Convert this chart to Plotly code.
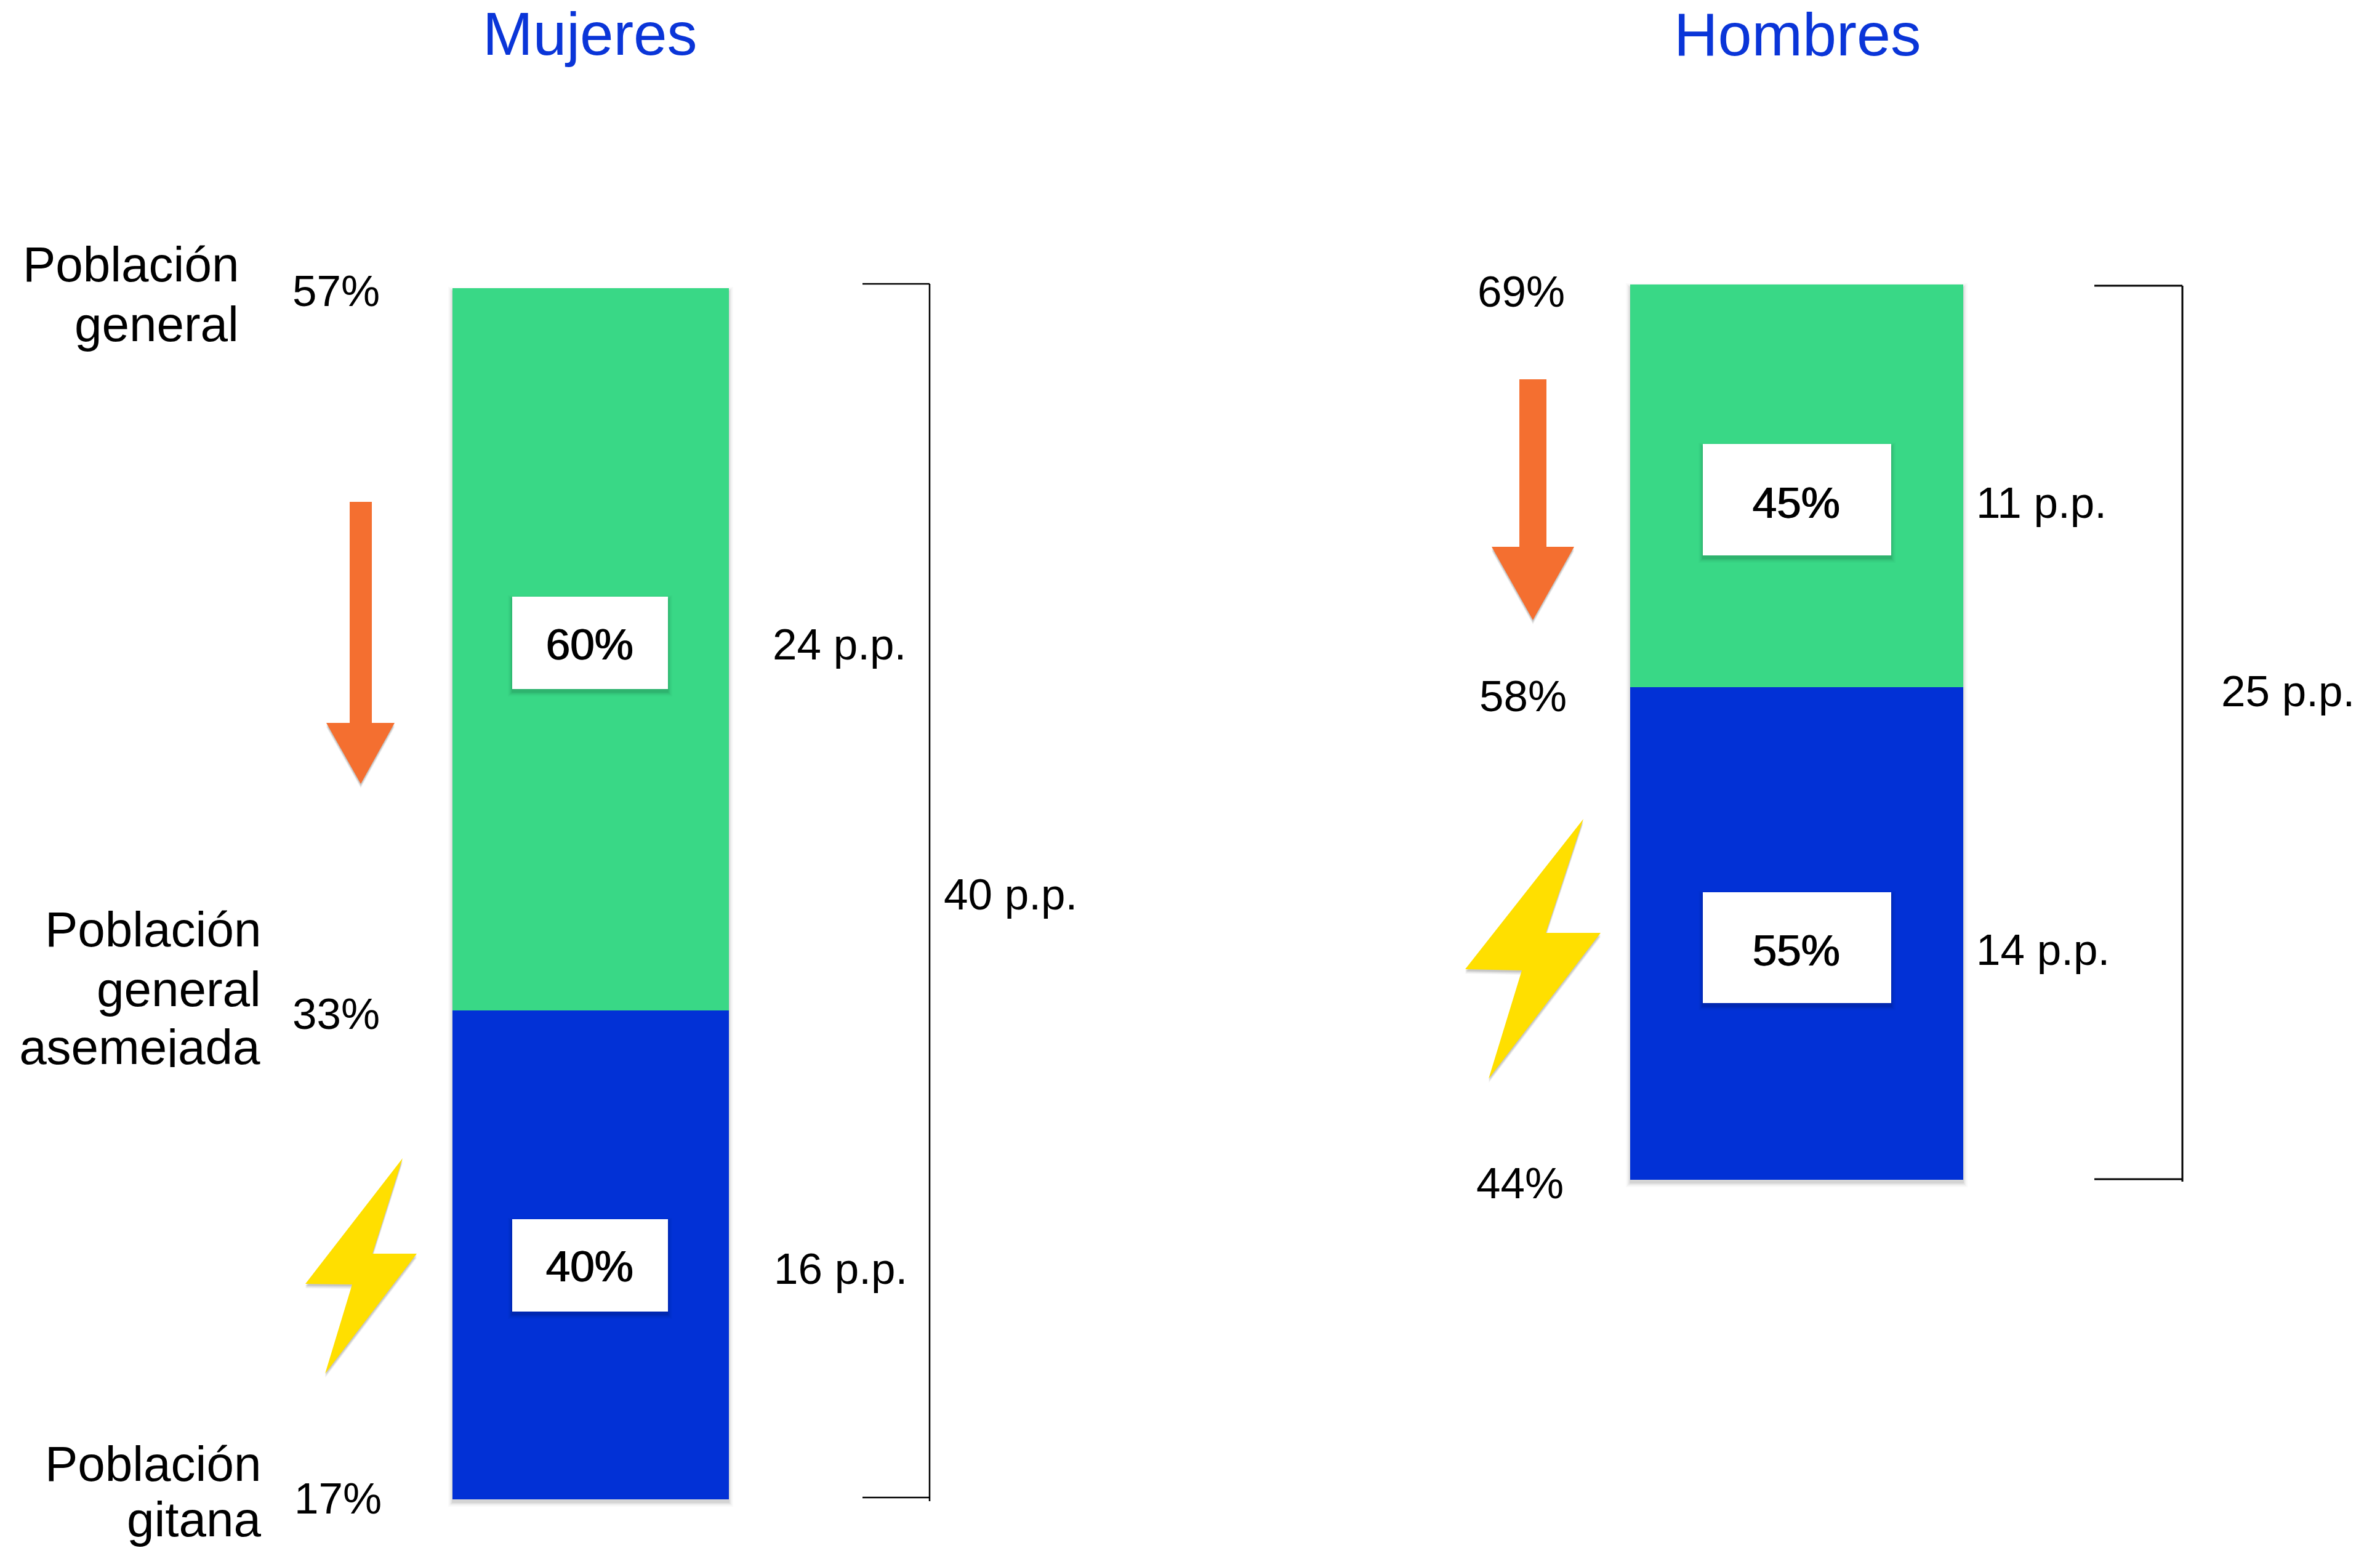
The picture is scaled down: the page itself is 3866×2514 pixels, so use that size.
import plotly.graph_objects as go

# ---------- data ----------
paneles = ["Mujeres", "Hombres"]
mujeres_tasas = [57, 33.15, 17]          # general, asemejada, gitana
hombres_tasas = [69, 57.75, 44]
mujeres_etiquetas = ["57%", "33%", "17%"]
hombres_etiquetas = ["69%", "58%", "44%"]
mujeres_reparto = ["60%", "40%"]
hombres_reparto = ["45%", "55%"]
mujeres_pp = ["24 p.p.", "16 p.p.", "40 p.p."]
hombres_pp = ["11 p.p.", "14 p.p.", "25 p.p."]

W, H = 3866, 2514
VERDE, AZUL, NARANJA, AMARILLO = "#39D886", "#0231D6", "#F46F30", "#FFDF00"
FONT = "Liberation Sans"


def px(x):
    return x / W


def py(y):
    return 1 - y / H


fig = go.Figure()
fig.add_trace(go.Bar(x=[paneles[0]], y=[mujeres_tasas[1] - mujeres_tasas[2]], base=[mujeres_tasas[2]],
                     marker=dict(color=AZUL, line_width=0), xaxis="x", yaxis="y"))
fig.add_trace(go.Bar(x=[paneles[0]], y=[mujeres_tasas[0] - mujeres_tasas[1]], base=[mujeres_tasas[1]],
                     marker=dict(color=VERDE, line_width=0), xaxis="x", yaxis="y"))
fig.add_trace(go.Bar(x=[paneles[1]], y=[hombres_tasas[1] - hombres_tasas[2]], base=[hombres_tasas[2]],
                     marker=dict(color=AZUL, line_width=0), xaxis="x2", yaxis="y2"))
fig.add_trace(go.Bar(x=[paneles[1]], y=[hombres_tasas[0] - hombres_tasas[1]], base=[hombres_tasas[1]],
                     marker=dict(color=VERDE, line_width=0), xaxis="x2", yaxis="y2"))

shapes = []
annotations = []


def texto(s, x, base, size=71, anchor="left", color="#000000", shadow="none", **kw):
    annotations.append(dict(
        text=s, x=px(x), y=py(base + 3 - 0.3465 * size), xref="paper", yref="paper",
        xanchor=anchor, yanchor="middle", showarrow=False, borderpad=0, borderwidth=0,
        font=dict(family=FONT, size=size, color=color, shadow=shadow), **kw))


def poligono(puntos, color, sombra=True, layer="above"):
    def camino(dx=0, dy=0):
        return "M " + " L ".join(f"{px(a + dx)} {py(b + dy)}" for a, b in puntos) + " Z"
    if sombra:
        for d, alpha in ((7, 0.06), (5, 0.08), (3, 0.10)):
            shapes.append(dict(type="path", path=camino(0, d), xref="paper", yref="paper",
                               fillcolor=f"rgba(0,0,0,{alpha})", line_width=0, layer=layer))
    shapes.append(dict(type="path", path=camino(), xref="paper", yref="paper",
                       fillcolor=color, line_width=0, layer=layer))


def caja(x0, y0, x1, y1, color="#FFFFFF", layer="above"):
    shapes.append(dict(type="rect", x0=px(x0), x1=px(x1), y0=py(y0), y1=py(y1), xref="paper", yref="paper",
                       fillcolor=color, line_width=0, layer=layer))


def sombra_rect(x0, y0, x1, y1, layer):
    for g, alpha in ((7, 0.02), (5, 0.03), (3, 0.05), (1, 0.07)):
        caja(x0 - g, y0 - g + 5, x1 + g, y1 + g + 5, f"rgba(0,0,0,{alpha})", layer)


def linea(x0, y0, x1, y1, ancho=2.5):
    shapes.append(dict(type="line", x0=px(x0), x1=px(x1), y0=py(y0), y1=py(y1), xref="paper", yref="paper",
                       line=dict(color="#000000", width=ancho), layer="above"))


# bar shadows (behind the bars)
sombra_rect(735, 468, 1184, 2435, "below")
sombra_rect(2648, 462, 3189, 1916, "below")

# titles
texto(paneles[0], 958, 86, size=98, anchor="center", color="#0A35D8")
texto(paneles[1], 2920, 87, size=99, anchor="center", color="#0A35D8")

# row labels
texto("Población", 388, 454, size=80, anchor="right")
texto("general", 388, 551, size=80, anchor="right")
texto("Población", 424, 1534, size=80, anchor="right")
texto("general", 424, 1631, size=80, anchor="right")
# the last line is cut just under its baseline in the reference
annotations.append(dict(text="asemejada", x=px(424), y=py(1734), xref="paper", yref="paper",
                        xanchor="right", yanchor="bottom", showarrow=False, borderpad=0,
                        width=400, height=77, align="right", valign="top",
                        font=dict(family=FONT, size=80, color="#000000")))
texto("Población", 424, 2402, size=80, anchor="right")
texto("gitana", 424, 2492, size=80, anchor="right")

# rates
texto(mujeres_etiquetas[0], 475, 494)
texto(mujeres_etiquetas[1], 475, 1668)
texto(mujeres_etiquetas[2], 478, 2455)
texto(hombres_etiquetas[0], 2400, 495)
texto(hombres_etiquetas[1], 2403, 1152)
texto(hombres_etiquetas[2], 2398, 1943)

# share boxes
for (x0, y0, x1, y1) in ((832, 969, 1085, 1119), (832, 1980, 1085, 2130),
                         (2766, 721, 3072, 902), (2766, 1449, 3072, 1629)):
    sombra_rect(x0, y0, x1, y1, "above")
    caja(x0, y0, x1, y1)
GROSOR = "1.5px 0 0 #000000"
texto(mujeres_reparto[0], 957, 1068, anchor="center", shadow=GROSOR)
texto(mujeres_reparto[1], 957, 2078, anchor="center", shadow=GROSOR)
texto(hombres_reparto[0], 2917, 838, anchor="center", shadow=GROSOR)
texto(hombres_reparto[1], 2917, 1565, anchor="center", shadow=GROSOR)

# percentage-point gaps
texto(mujeres_pp[0], 1255, 1068)
texto(mujeres_pp[1], 1257, 2082)
texto(mujeres_pp[2], 1533, 1474)
texto(hombres_pp[0], 3210, 838)
texto(hombres_pp[1], 3210, 1564)
texto(hombres_pp[2], 3608, 1144)

# brackets
linea(1401, 461, 1510, 461)
linea(1510, 461, 1510, 2438)
linea(1401, 2432, 1510, 2432)
linea(3402, 464, 3545, 464, 3)
linea(3545, 464, 3545, 1919, 3)
linea(3402, 1915, 3545, 1915, 3)

# arrows
poligono([(568, 815), (604, 815), (604, 1174), (641, 1174), (586, 1273), (530, 1174), (568, 1174)], NARANJA)
poligono([(2468, 616), (2512, 616), (2512, 888), (2557, 888), (2490, 1007), (2423, 888), (2468, 888)], NARANJA)

# lightning bolts
poligono([(654, 1881), (605, 2036), (677, 2036), (528, 2231), (572, 2086), (496, 2085)], AMARILLO)
poligono([(2572, 1330), (2511, 1515), (2600, 1515), (2418, 1752), (2472, 1576), (2380, 1574)], AMARILLO)

oculto = dict(visible=False, fixedrange=True)
fig.update_layout(
    width=W, height=H, autosize=False, margin=dict(l=0, r=0, t=0, b=0, pad=0),
    paper_bgcolor="#FFFFFF", plot_bgcolor="rgba(0,0,0,0)",
    showlegend=False, barmode="overlay", bargap=0,
    xaxis=dict(domain=[px(735), px(1184)], anchor="y", **oculto),
    yaxis=dict(domain=[py(2435), py(468)], range=[mujeres_tasas[2], mujeres_tasas[0]], anchor="x", **oculto),
    xaxis2=dict(domain=[px(2648), px(3189)], anchor="y2", **oculto),
    yaxis2=dict(domain=[py(1916), py(462)], range=[hombres_tasas[2], hombres_tasas[0]], anchor="x2", **oculto),
    shapes=shapes, annotations=annotations,
)
fig.write_html("out.html", config=dict(displayModeBar=False),
               post_script="document.body.style.margin='0';document.documentElement.style.overflow='hidden';")
